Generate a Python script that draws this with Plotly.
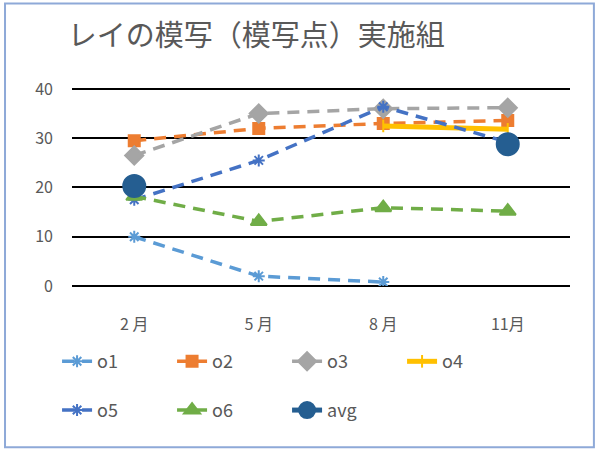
import plotly.graph_objects as go

months = ["2 月", "5 月", "8 月", "11月"]
o1 = [10.0, 2.0, 0.8, None]
o2 = [29.5, 32.0, 33.0, 33.6]
o3 = [26.5, 35.0, 36.0, 36.2]
o4 = [None, None, 32.5, 31.8]
o5 = [17.5, 25.5, 36.4, 29.2]
o6 = [18.2, 13.1, 15.9, 15.2]
avg = [20.3, None, None, 28.8]

FONT = "Noto Sans CJK JP"
TXT = "#595959"
DASH = "12px,8px"

series = [
    ("o1", o1, "#5B9BD5", DASH, 3.5, "asterisk-open", 10, "legend"),
    ("o2", o2, "#ED7D31", DASH, 3.5, "square", 11, "legend"),
    ("o3", o3, "#A5A5A5", DASH, 3.5, "diamond", 14, "legend"),
    ("o4", o4, "#FFC000", "solid", 5, "line-ns-open", 9, "legend"),
    ("o5", o5, "#4472C4", DASH, 3.5, "asterisk-open", 10, "legend2"),
    ("o6", o6, "#70AD47", DASH, 3.5, "triangle-up", 14, "legend2"),
    ("avg", avg, "#255E91", "solid", 5, "circle", 22, "legend2"),
]

fig = go.Figure()
for name, vals, color, dash, width, sym, size, leg in series:
    fig.add_trace(go.Scatter(
        x=months, y=vals, name=name, mode="lines+markers",
        line=dict(color=color, width=width, dash=dash),
        marker=dict(symbol=sym, size=size, color=color,
                    line=dict(color=color, width=2)),
        connectgaps=False, legend=leg,
    ))

fig.update_layout(
    width=596, height=450,
    margin=dict(l=72, r=26, t=87, b=164),
    paper_bgcolor="white", plot_bgcolor="white",
    font=dict(family=FONT, color=TXT, size=16),
    title=dict(text="レイの模写（模写点）実施組", x=0.43, xanchor="center",
               y=0.92, yanchor="middle", font=dict(size=29, color=TXT, family=FONT)),
    xaxis=dict(type="category", categoryorder="array", categoryarray=months,
               range=[-0.5, 3.5], showgrid=False, showline=False, zeroline=False,
               ticks="", ticklabelstandoff=27, tickfont=dict(size=16, color=TXT)),
    yaxis=dict(range=[0, 40.4], tickvals=[0, 10, 20, 30, 40], showgrid=True,
               gridcolor="black", gridwidth=2,
               zeroline=True, zerolinecolor="black", zerolinewidth=2, showline=False,
               ticks="", ticklabelstandoff=18, tickfont=dict(size=16, color=TXT)),
    legend=dict(orientation="h", x=-0.03, xanchor="left", y=-0.38, yanchor="middle",
                entrywidth=70, font=dict(size=18, color=TXT, family=FONT),
                bgcolor="rgba(0,0,0,0)"),
    legend2=dict(orientation="h", x=-0.03, xanchor="left", y=-0.625, yanchor="middle",
                 entrywidth=70, font=dict(size=18, color=TXT, family=FONT),
                 bgcolor="rgba(0,0,0,0)"),
    shapes=[dict(type="rect", xref="paper", yref="paper",
                 x0=-0.1345, x1=1.048, y0=-0.81, y1=1.42,
                 line=dict(color="#8EA9D8", width=2), layer="below")],
)

fig.write_html("out.html", config={"displayModeBar": False},
               post_script="document.body.style.margin='0';")
